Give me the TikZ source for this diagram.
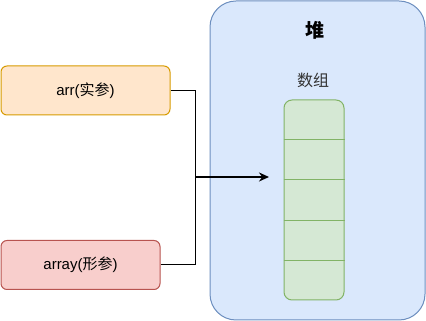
\documentclass[tikz,border=0pt]{standalone}
\usepackage{fontspec}
\setmainfont{Liberation Sans}
\newfontfamily\cjk{Noto Sans CJK SC}
\usetikzlibrary{
    arrows.meta,
    positioning,
    calc
}
\definecolor{orFill}{HTML}{FFE6CC}
\definecolor{orLine}{HTML}{D79B00}
\definecolor{rdFill}{HTML}{F8CECC}
\definecolor{rdLine}{HTML}{B85450}
\definecolor{blFill}{HTML}{DAE8FC}
\definecolor{blLine}{HTML}{6C8EBF}
\definecolor{grFill}{HTML}{D5E8D4}
\definecolor{grLine}{HTML}{82B366}
\tikzset{
  pblock/.style  = {draw, rounded corners=6pt, line width=1pt, inner sep=0pt,
                    minimum height=49pt, align=center,
                    font=\fontsize{15}{18}\selectfont},
  heapbox/.style = {draw=blLine, fill=blFill, rounded corners=26pt,
                    line width=1pt, minimum width=215pt, minimum height=319pt},
  colbox/.style  = {draw=grLine, fill=grFill, rounded corners=8pt,
                    line width=1pt, minimum width=60pt, minimum height=200pt},
  cellline/.style= {grLine, line width=1pt},
  wire/.style    = {black, line width=1pt},
  arr/.style     = {-{Stealth[length=10pt,width=9pt]}, black, line width=2.2pt}
}

\begin{document}
\begin{tikzpicture}[x=1pt, y=1pt]
  \useasboundingbox (0,0) rectangle (426,321);

  % ── HEAP ──
  \node[heapbox] (heap) at (317.5,160.5) {};
  \node[font=\cjk\bfseries\fontsize{19}{22}\selectfont] (heapT) at (315,291) {堆};
  \node[font=\cjk\fontsize{16}{19}\selectfont, text=black!80] (colT) at (313,241) {数组};
  \node[colbox] (col) at (314,121) {};
  \foreach \i in {1,...,4}
    \draw[cellline] ($(col.north west)!\i/5!(col.south west)$)
                 -- ($(col.north east)!\i/5!(col.south east)$);

  % ── PARAMETERS ──
  \node[pblock, draw=orLine, fill=orFill, minimum width=169pt]
        (actual) at (85.5,230.5) {arr({\cjk 实参})};
  \node[pblock, draw=rdLine, fill=rdFill, minimum width=159pt]
        (formal) at (80.5,56) {array({\cjk 形参})};

  % references into the heap
  \coordinate (join) at (195.5,144);
  \coordinate (tip)  at (269,144);
  \draw[wire] (actual.east) -| (join);
  \draw[wire] (formal.east) -| (join);
  \draw[arr] (join) -- (tip);
\end{tikzpicture}
\end{document}
